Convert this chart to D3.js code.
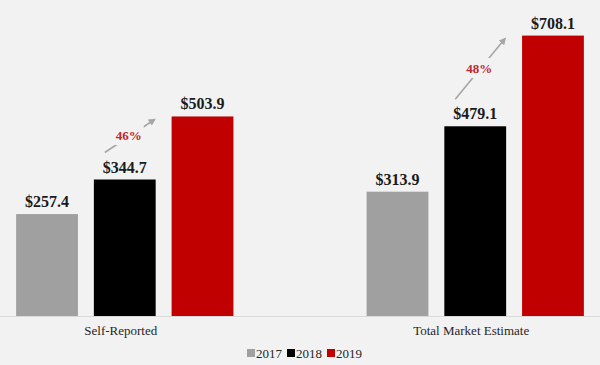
<!DOCTYPE html>
<html><head><meta charset="utf-8">
<script src="https://cdn.jsdelivr.net/npm/d3@7"></script>
<style>html,body{margin:0;padding:0;background:#f2f2f2;}svg{display:block;}</style>
</head><body>
<script>
const categories = ["Self-Reported", "Total Market Estimate"];
const years = ["2017", "2018", "2019"];
const values2017 = [257.4, 313.9];
const values2018 = [344.7, 479.1];
const values2019 = [503.9, 708.1];
const growthLabels = ["46%", "48%"];
const colors = ["#a0a0a0", "#000000", "#c00000"];

const W = 600, H = 365, baseY = 316;
const font = "'Liberation Serif', 'DejaVu Serif', serif";
const series = [values2017, values2018, values2019];

const svg = d3.select("body").append("svg").attr("width", W).attr("height", H);
svg.append("rect").attr("width", W).attr("height", H).attr("fill", "#f2f2f2");

const x0 = d3.scaleBand().domain(categories).range([0, W]).paddingInner(0.38).paddingOuter(0.046);
const x1 = d3.scaleBand().domain(years).range([0, x0.bandwidth()]).paddingInner(0.205).paddingOuter(0);
const y = d3.scaleLinear().domain([0, 798]).range([baseY, 0]);

// baseline
svg.append("line").attr("x1", 0).attr("x2", W).attr("y1", baseY + 0.5).attr("y2", baseY + 0.5)
  .attr("stroke", "#d9d9d9").attr("stroke-width", 1);

const data = [];
categories.forEach((c, i) => years.forEach((yr, j) => data.push({c, yr, j, v: series[j][i]})));

svg.selectAll("rect.bar").data(data).enter().append("rect").attr("class", "bar")
  .attr("x", d => x0(d.c) + x1(d.yr)).attr("width", x1.bandwidth())
  .attr("y", d => y(d.v)).attr("height", d => baseY - y(d.v))
  .attr("fill", d => colors[d.j]);

svg.selectAll("text.val").data(data).enter().append("text").attr("class", "val")
  .attr("x", d => x0(d.c) + x1(d.yr) + x1.bandwidth() / 2)
  .attr("y", d => y(d.v) - 7)
  .attr("text-anchor", "middle").attr("font-family", font).attr("font-weight", "bold")
  .attr("font-size", 16).attr("fill", "#1a1a1a")
  .text(d => "$" + d.v.toFixed(1));

// category labels
svg.selectAll("text.cat").data(categories).enter().append("text").attr("class", "cat")
  .attr("x", d => x0(d) + x0.bandwidth() / 2 - 4).attr("y", 335)
  .attr("text-anchor", "middle").attr("font-family", font).attr("font-size", 13)
  .attr("fill", "#262626").text(d => d);

// growth arrows
const defs = svg.append("defs");
defs.append("marker").attr("id", "ah").attr("viewBox", "0 0 10 10").attr("refX", 8).attr("refY", 5)
  .attr("markerWidth", 4.5).attr("markerHeight", 4.5).attr("orient", "auto")
  .append("path").attr("d", "M0,0 L10,5 L0,10 Z").attr("fill", "#a6a6a6");

categories.forEach((c, i) => {
  const bx = x0(c) + x1("2018") + x1.bandwidth() / 2 - 20;
  const by = y(values2018[i]) - 27;
  const ex = x0(c) + x1("2019") - 17;
  const ey = y(values2019[i]) + 3;
  const g = svg.append("g");
  g.append("line").attr("x1", bx).attr("y1", by).attr("x2", ex).attr("y2", ey)
    .attr("stroke", "#a6a6a6").attr("stroke-width", 1.6).attr("marker-end", "url(#ah)");
  const mx = (bx + ex) / 2 - 1, my = (by + ey) / 2;
  g.append("rect").attr("x", mx - 15).attr("y", my - 11).attr("width", 30).attr("height", 20).attr("fill", "#f2f2f2");
  g.append("text").attr("x", mx).attr("y", my + 4).attr("text-anchor", "middle")
    .attr("font-family", font).attr("font-weight", "bold").attr("font-size", 13)
    .attr("fill", "#c0282d").text(growthLabels[i]);
});

// legend
const legend = svg.append("g");
const lx = [247, 287, 327];
years.forEach((yr, j) => {
  legend.append("rect").attr("x", lx[j]).attr("y", 349).attr("width", 8).attr("height", 8).attr("fill", colors[j]);
  legend.append("text").attr("x", lx[j] + 9).attr("y", 357.5).attr("font-family", font)
    .attr("font-size", 13).attr("fill", "#262626").text(yr);
});
</script>
</body></html>
